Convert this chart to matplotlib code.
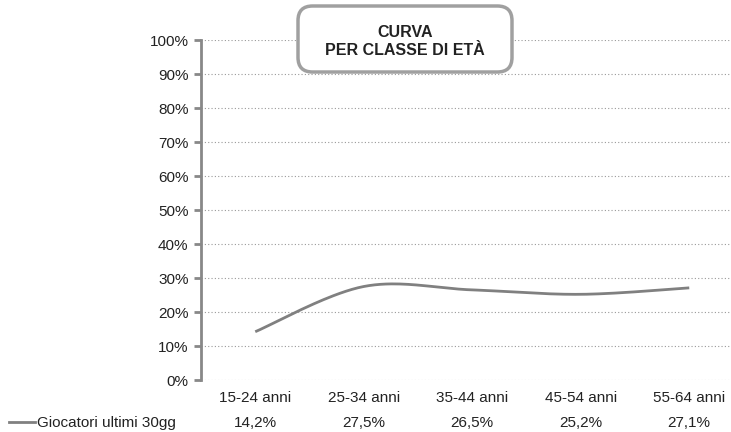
import numpy as np
import matplotlib
matplotlib.use("Agg")
import matplotlib.pyplot as plt
from matplotlib.patches import FancyBboxPatch

categories = ["15-24 anni", "25-34 anni", "35-44 anni", "45-54 anni", "55-64 anni"]
values = [14.2, 27.5, 26.5, 25.2, 27.1]
value_labels = ["14,2%", "27,5%", "26,5%", "25,2%", "27,1%"]
series_name = "Giocatori ultimi 30gg"
yticks = [0, 10, 20, 30, 40, 50, 60, 70, 80, 90, 100]
title = "CURVA\nPER CLASSE DI ETÀ"

plt.rcParams['font.family'] = ['Liberation Sans', 'DejaVu Sans']

W, H = 731, 432
fig = plt.figure(figsize=(W / 100, H / 100), dpi=100)

x0 = 201
step = 108.5
left = x0 / W
width = 5 * step / W
bottom = (H - 380) / H
height = 340 / H
ax = fig.add_axes([left, bottom, width, height])
ax.set_xlim(-0.5, 4.5)
ax.set_ylim(0, 100)

# smoothed line (cardinal spline through the data points)
xs = np.arange(len(values), dtype=float)
ys = np.array(values, dtype=float)
px = np.concatenate([[xs[0]], xs, [xs[-1]]])
py = np.concatenate([[ys[0]], ys, [ys[-1]]])
t = np.linspace(0, 1, 40)
cx, cy = [], []
tension = 0.5
for i in range(1, len(px) - 2):
    p0, p1, p2, p3 = (np.array([px[j], py[j]]) for j in (i - 1, i, i + 1, i + 2))
    m1 = tension * (p2 - p0)
    m2 = tension * (p3 - p1)
    h00 = 2 * t**3 - 3 * t**2 + 1
    h10 = t**3 - 2 * t**2 + t
    h01 = -2 * t**3 + 3 * t**2
    h11 = t**3 - t**2
    seg = (np.outer(h00, p1) + np.outer(h10, m1) + np.outer(h01, p2) + np.outer(h11, m2))
    cx.extend(seg[:, 0]); cy.extend(seg[:, 1])
ax.plot(cx, cy, color="#808080", lw=2.0, solid_capstyle="butt", zorder=3, clip_on=False)

# grid
for yv in yticks:
    ax.axhline(yv, color="#999999", lw=0.8, ls=(0, (1, 2)), zorder=1)

for s in ["top", "right", "bottom"]:
    ax.spines[s].set_visible(False)
ax.spines["left"].set_color("#888888")
ax.spines["left"].set_linewidth(2)
ax.set_yticks(yticks)
ax.set_yticklabels([f"{v}%" for v in yticks], fontsize=11, color="#222222")
ax.tick_params(axis="y", length=5, width=2, color="#888888", pad=4)
ax.set_xticks(range(len(categories)))
ax.set_xticklabels(categories, fontsize=11, color="#222222")
ax.tick_params(axis="x", length=0, pad=8)

# data table row
for i, lab in enumerate(value_labels):
    ax.text(i, -43 / 340, lab, transform=ax.get_xaxis_transform(), ha="center", va="center",
            fontsize=11, color="#222222")
fig.add_artist(plt.Line2D([9 / W, 35 / W], [(H - 422) / H] * 2, color="#808080", lw=2.0))
fig.text(37 / W, (H - 423) / H, series_name, ha="left", va="center", fontsize=11, color="#222222")

# title box
bx0, by0, bx1, by1 = 298, 6, 512, 72
box = FancyBboxPatch((bx0 / W, (H - by1) / H), (bx1 - bx0) / W, (by1 - by0) / H,
                     boxstyle="round,pad=0,rounding_size=0.02", transform=fig.transFigure,
                     facecolor="white", edgecolor="#a0a0a0", lw=2.5, zorder=5,
                     mutation_aspect=W / H)
fig.add_artist(box)
fig.text((bx0 + bx1) / 2 / W, (H - 41.5) / H, title, ha="center", va="center", fontsize=11.5,
         fontweight="bold", color="#222222", linespacing=1.2, zorder=6)

fig.savefig("out.png", dpi=100)
